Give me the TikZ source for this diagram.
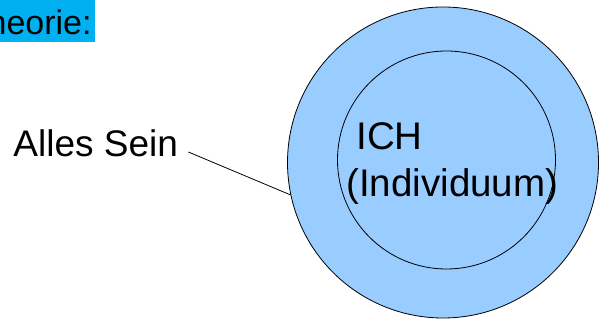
\documentclass[tikz,border=0pt]{standalone}
\usepackage{fontspec}
\setmainfont{Liberation Sans}
\usetikzlibrary{calc}
\definecolor{lightblue}{HTML}{99CCFF}
\definecolor{titlecyan}{HTML}{00B0F0}

\begin{document}
\begin{tikzpicture}[x=1pt, y=1pt, line width=.8pt,
  every node/.style={inner sep=0, font=\fontsize{37}{47}\selectfont},
  inlabel/.style={anchor=base west, font=\fontsize{38.5}{47}\selectfont}]
\useasboundingbox (0,0) rectangle (602,320);
\clip (0,0) rectangle (602,320);
\node[fill=titlecyan, anchor=base east, inner xsep=3, text depth=7, text height=45,
  font=\fontsize{34}{42}\selectfont] (title) at (95,285) {Theorie:};
\node[circle, draw, fill=lightblue, minimum size=311] (outer) at (443,157.5) {};
\node[circle, draw, minimum size=218] (inner) at (446.5,160) {};
\node[inlabel] (ich) at (356,170) {ICH};
\node[inlabel] (indiv) at (346,123) {(Individuum)};
\node[anchor=base west] (alles) at (13,163) {Alles Sein};
\draw ([xshift=10, yshift=5]alles.base east) -- (outer.192);
\end{tikzpicture}
\end{document}
